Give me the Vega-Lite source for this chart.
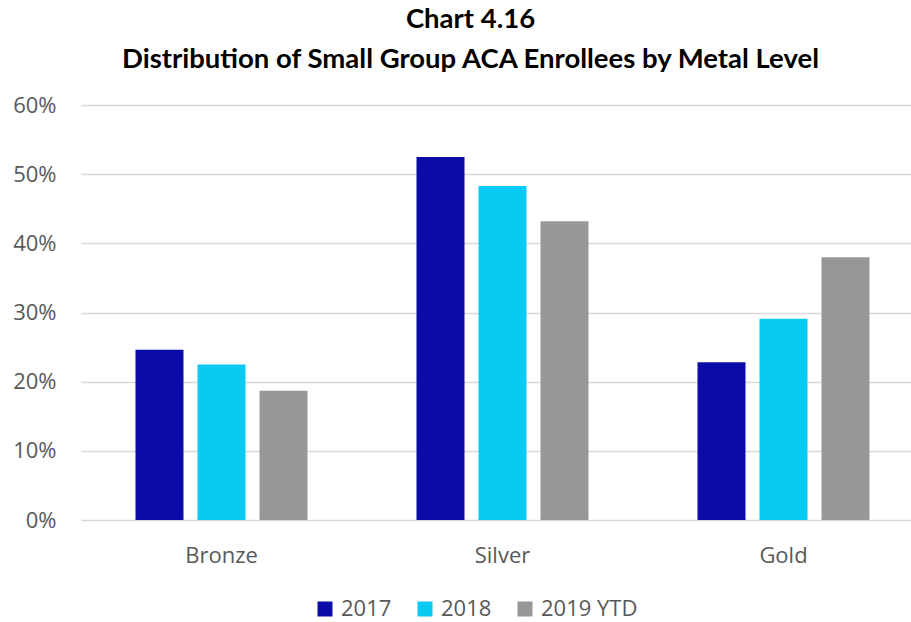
{
  "$schema": "https://vega.github.io/schema/vega-lite/v6.json",
  "autosize": {"type": "none"},
  "width": 843,
  "height": 415,
  "padding": {"left": 81, "top": 105, "right": 0, "bottom": 102},
  "background": "white",
  "title": {
    "text": ["Chart 4.16", "Distribution of Small Group ACA Enrollees by Metal Level"],
    "font": "Lato",
    "fontSize": 27.5,
    "fontWeight": "bold",
    "color": "#000000",
    "anchor": "middle",
    "dx": -32,
    "offset": 21,
    "lineHeight": 40
  },
  "data": {
    "values": [
      {"metal": "Bronze", "year": "2017", "share": 0.246},
      {"metal": "Bronze", "year": "2018", "share": 0.225},
      {"metal": "Bronze", "year": "2019 YTD", "share": 0.187},
      {"metal": "Silver", "year": "2017", "share": 0.525},
      {"metal": "Silver", "year": "2018", "share": 0.483},
      {"metal": "Silver", "year": "2019 YTD", "share": 0.432},
      {"metal": "Gold", "year": "2017", "share": 0.228},
      {"metal": "Gold", "year": "2018", "share": 0.291},
      {"metal": "Gold", "year": "2019 YTD", "share": 0.380}
    ]
  },
  "mark": {"type": "bar"},
  "encoding": {
    "x": {
      "field": "metal",
      "type": "nominal",
      "sort": ["Bronze", "Silver", "Gold"],
      "scale": {"paddingInner": 0.338, "paddingOuter": 0.169},
      "axis": {
        "title": null,
        "labelAngle": 0,
        "labelFont": "Open Sans",
        "labelFontSize": 22,
        "labelColor": "#595959",
        "labelPadding": 25,
        "ticks": false,
        "domain": false
      }
    },
    "xOffset": {
      "field": "year",
      "type": "nominal",
      "sort": ["2017", "2018", "2019 YTD"],
      "scale": {"paddingInner": 0.226, "paddingOuter": 0.113}
    },
    "y": {
      "field": "share",
      "type": "quantitative",
      "scale": {"domain": [0, 0.6]},
      "axis": {
        "title": null,
        "format": ".0%",
        "values": [0, 0.1, 0.2, 0.3, 0.4, 0.5, 0.6],
        "labelFont": "Open Sans",
        "labelFontSize": 22,
        "labelColor": "#595959",
        "labelPadding": 25,
        "labelOverlap": false,
        "labelBound": false,
        "labelFlush": false,
        "ticks": false,
        "domain": false,
        "grid": true,
        "gridColor": "#D9D9D9",
        "gridWidth": 1.5
      }
    },
    "color": {
      "field": "year",
      "type": "nominal",
      "sort": ["2017", "2018", "2019 YTD"],
      "scale": {
        "domain": ["2017", "2018", "2019 YTD"],
        "range": ["#0B0BAA", "#08CAF2", "#979797"]
      },
      "legend": {
        "title": null,
        "orient": "none",
        "direction": "horizontal",
        "legendX": 233,
        "legendY": 493,
        "padding": 0,
        "symbolType": "square",
        "symbolSize": 225,
        "symbolStrokeWidth": 0,
        "labelFont": "Open Sans",
        "labelFontSize": 22,
        "labelColor": "#595959",
        "labelOffset": 5,
        "columnPadding": 22
      }
    }
  },
  "config": {
    "view": {"stroke": null}
  }
}
